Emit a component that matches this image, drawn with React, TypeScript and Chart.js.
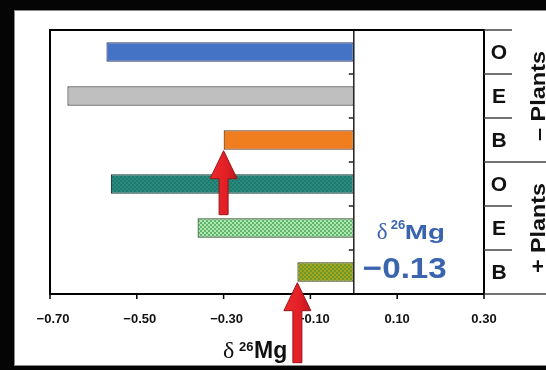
import { useEffect, useRef } from 'react';
import { Chart, registerables } from 'chart.js';

Chart.register(...registerables);

// Treatments (rows, top to bottom) and their δ26Mg values
const rowLabels = ['O', 'E', 'B', 'O', 'E', 'B'];
const groupLabels = ['– Plants', '+ Plants'];
const delta26Mg = [-0.57, -0.66, -0.3, -0.56, -0.36, -0.13];

// x-axis ticks
const tickValues = [-0.7, -0.5, -0.3, -0.1, 0.1, 0.3];
const tickLabels = ['−0.70', '−0.50', '−0.30', '−0.10', '0.10', '0.30'];

// rows marked with an arrow, and the row whose value is called out
const arrowRows = [2, 5];
const arrowLengths = [64, 80];
const calloutRow = 5;

const SANS = "'Liberation Sans', Arial, sans-serif";
const SERIF = "'Liberation Serif', 'Times New Roman', serif";
const BLUE_TEXT = '#3A64AE';

function checker(a: string, b: string, cell = 2): CanvasPattern | string {
  const c = document.createElement('canvas');
  c.width = cell * 2;
  c.height = cell * 2;
  const x = c.getContext('2d');
  if (!x) return a;
  x.fillStyle = a;
  x.fillRect(0, 0, cell * 2, cell * 2);
  x.fillStyle = b;
  x.fillRect(0, 0, cell, cell);
  x.fillRect(cell, cell, cell, cell);
  return x.createPattern(c, 'repeat') || a;
}

function fillStretched(
  ctx: CanvasRenderingContext2D,
  text: string,
  x: number,
  y: number,
  font: string,
  width?: number
) {
  ctx.save();
  ctx.font = font;
  const w = ctx.measureText(text).width;
  const sx = width ? width / w : 1;
  ctx.translate(x, y);
  ctx.scale(sx, 1);
  ctx.fillText(text, 0, 0);
  ctx.restore();
}

function drawArrow(
  ctx: CanvasRenderingContext2D,
  x: number,
  tipY: number,
  length: number
) {
  const headLen = 28;
  const headHalf = 13.5;
  const shaftHalf = 4.5;
  const tailY = tipY + length;
  ctx.save();
  ctx.beginPath();
  ctx.moveTo(x, tipY);
  ctx.lineTo(x + headHalf, tipY + headLen);
  ctx.lineTo(x + shaftHalf, tipY + headLen);
  ctx.lineTo(x + shaftHalf, tailY);
  ctx.lineTo(x - shaftHalf, tailY);
  ctx.lineTo(x - shaftHalf, tipY + headLen);
  ctx.lineTo(x - headHalf, tipY + headLen);
  ctx.closePath();
  const g = ctx.createLinearGradient(x - headHalf, 0, x + headHalf, 0);
  g.addColorStop(0, '#EE2A2A');
  g.addColorStop(0.6, '#E21F26');
  g.addColorStop(1, '#B81A1E');
  ctx.fillStyle = g;
  ctx.fill();
  ctx.strokeStyle = '#9A1518';
  ctx.lineWidth = 1;
  ctx.stroke();
  ctx.restore();
}

const panelPlugin = {
  id: 'panel',
  beforeDraw(chart: Chart) {
    const { ctx, width, height } = chart;
    ctx.save();
    ctx.fillStyle = '#050505';
    ctx.fillRect(0, 0, width, height);
    ctx.fillStyle = '#ffffff';
    ctx.fillRect(14, 10, width - 14, height - 14);
    ctx.strokeStyle = '#8a8a8a';
    ctx.lineWidth = 1;
    ctx.strokeRect(14.5, 10.5, width, height - 15);
    ctx.restore();
  },
};

const decorPlugin = {
  id: 'decor',
  afterDatasetsDraw(chart: Chart) {
    const { ctx, chartArea, width } = chart;
    const xs = chart.scales.x;
    const ys = chart.scales.y;
    const { left, right, top, bottom } = chartArea;
    const zeroX = xs.getPixelForValue(0);
    const rowY = (i: number) => ys.getPixelForValue(i);
    const boundary = (i: number) => (rowY(i - 1) + rowY(i)) / 2;

    ctx.save();

    // zero line with category ticks
    ctx.strokeStyle = '#222';
    ctx.lineWidth = 1.5;
    ctx.beginPath();
    ctx.moveTo(zeroX, top);
    ctx.lineTo(zeroX, bottom);
    for (let i = 1; i < rowLabels.length; i++) {
      const y = boundary(i);
      ctx.moveTo(zeroX - 5, y);
      ctx.lineTo(zeroX, y);
    }
    ctx.stroke();

    // plot frame
    ctx.strokeStyle = '#000';
    ctx.lineWidth = 2;
    ctx.strokeRect(left, top, right - left, bottom - top);

    // x ticks and labels
    ctx.lineWidth = 1.5;
    ctx.beginPath();
    tickValues.forEach((v) => {
      const x = xs.getPixelForValue(v);
      ctx.moveTo(x, bottom);
      ctx.lineTo(x, bottom + 5);
    });
    ctx.stroke();
    ctx.fillStyle = '#111';
    ctx.font = `bold 13px ${SANS}`;
    ctx.textAlign = 'center';
    ctx.textBaseline = 'alphabetic';
    tickValues.forEach((v, i) => {
      const x = xs.getPixelForValue(v);
      const shift = tickLabels[i].startsWith('−') ? 3 : 0;
      ctx.fillText(tickLabels[i], x + shift, bottom + 29);
    });

    // x-axis title: δ 26Mg
    ctx.textAlign = 'left';
    const tx = left + 173;
    ctx.fillStyle = '#111';
    ctx.font = `24px ${SERIF}`;
    ctx.fillText('δ', tx, bottom + 64);
    ctx.font = `bold 13px ${SANS}`;
    ctx.fillText('26', tx + 16, bottom + 57);
    ctx.font = `bold 23px ${SANS}`;
    ctx.fillText('Mg', tx + 31, bottom + 64);

    // side table: treatment letters and group labels
    const colRight = right + 28;
    ctx.strokeStyle = '#444';
    ctx.lineWidth = 1.5;
    ctx.beginPath();
    ctx.moveTo(right, top);
    ctx.lineTo(colRight, top);
    for (let i = 1; i < rowLabels.length; i++) {
      const y = boundary(i);
      const fullWidth = i % 3 === 0;
      ctx.moveTo(right, y);
      ctx.lineTo(fullWidth ? width : colRight, y);
    }
    ctx.moveTo(right, bottom);
    ctx.lineTo(width, bottom);
    ctx.stroke();

    ctx.fillStyle = '#111';
    ctx.font = `bold 21px ${SANS}`;
    ctx.textAlign = 'center';
    ctx.textBaseline = 'middle';
    rowLabels.forEach((lab, i) => {
      ctx.fillText(lab, right + 15, rowY(i) + 1);
    });

    groupLabels.forEach((lab, g) => {
      const y0 = g === 0 ? top : boundary(3);
      const y1 = g === 0 ? boundary(3) : bottom;
      ctx.save();
      ctx.translate(width - 1, (y0 + y1) / 2);
      ctx.rotate(-Math.PI / 2);
      ctx.font = `bold 20px ${SANS}`;
      ctx.textAlign = 'center';
      ctx.textBaseline = 'alphabetic';
      const w = ctx.measureText(lab).width;
      ctx.scale(90 / w, 1);
      ctx.fillText(lab, 0, 0);
      ctx.restore();
    });

    // callout of the highlighted value
    const cy = rowY(calloutRow);
    const cx = zeroX + 9;
    ctx.fillStyle = BLUE_TEXT;
    ctx.textAlign = 'left';
    ctx.textBaseline = 'alphabetic';
    ctx.font = `23px ${SERIF}`;
    ctx.fillText('δ', cx + 14, cy - 33);
    ctx.font = `bold 13px ${SANS}`;
    ctx.fillText('26', cx + 28, cy - 43);
    fillStretched(ctx, 'Mg', cx + 42, cy - 33, `bold 21px ${SANS}`, 40);
    const v = delta26Mg[calloutRow];
    const valueText = (v < 0 ? '−' : '') + Math.abs(v).toFixed(2);
    fillStretched(ctx, valueText, cx, cy + 6, `bold 30px ${SANS}`, 84);

    // arrows pointing at bar ends
    const meta = chart.getDatasetMeta(0);
    arrowRows.forEach((r, k) => {
      const el = meta.data[r] as any;
      const tipY = el.y + el.height / 2 + 1;
      drawArrow(ctx, el.x, tipY, arrowLengths[k]);
    });

    ctx.restore();
  },
};

export default function App() {
  const canvasRef = useRef<HTMLCanvasElement | null>(null);

  useEffect(() => {
    const canvas = canvasRef.current;
    if (!canvas) return;

    const fills = [
      '#4472C4',
      '#BFBFBF',
      '#F07D1E',
      checker('#2A8C7F', '#1F7A6E'),
      checker('#5DB86C', '#B2E4B2'),
      checker('#A8A41C', '#6A9A2A'),
    ];
    const borders = ['#2A3F70', '#444444', '#6A3A10', '#1A3F38', '#28502C', '#3A4210'];

    const chart = new Chart(canvas, {
      type: 'bar',
      data: {
        labels: rowLabels,
        datasets: [
          {
            data: delta26Mg,
            backgroundColor: fills as any,
            borderColor: borders,
            borderWidth: 1.2,
            borderSkipped: false,
            barPercentage: 0.44,
            categoryPercentage: 1,
          },
        ],
      },
      options: {
        indexAxis: 'y',
        responsive: false,
        animation: false,
        layout: { padding: { left: 50, top: 30, right: 62, bottom: 76 } },
        plugins: {
          legend: { display: false },
          tooltip: { enabled: false },
        },
        scales: {
          x: { type: 'linear', min: -0.7, max: 0.3, display: false },
          y: { type: 'category', display: false, offset: true },
        },
      },
      plugins: [panelPlugin, decorPlugin],
    });

    return () => chart.destroy();
  }, []);

  return (
    <div
      style={{
        position: 'absolute',
        left: 0,
        top: 0,
        width: 546,
        height: 370,
        background: '#050505',
      }}
    >
      <canvas ref={canvasRef} width={546} height={370} style={{ display: 'block' }} />
    </div>
  );
}
